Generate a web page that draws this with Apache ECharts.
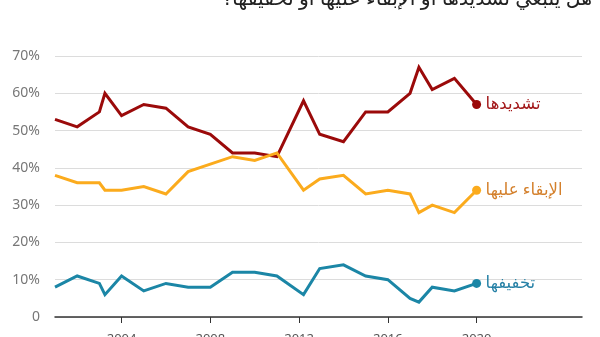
<!DOCTYPE html>
<html>
<head>
<meta charset="utf-8">
<script src="https://cdn.jsdelivr.net/npm/echarts@6/dist/echarts.min.js"></script>
<style>
  html, body { margin: 0; padding: 0; background: #fff; }
  #chart { width: 600px; height: 337px; }
</style>
</head>
<body>
<div id="chart"></div>
<script>
// Survey dates (fractional years) and shares of respondents, in percent
const surveyDates = [2001, 2002, 2003, 2003.25, 2004, 2005, 2006, 2007, 2008, 2009, 2010, 2011, 2012.2, 2012.93, 2014, 2015, 2016, 2017, 2017.4, 2018, 2019, 2020];
const tighten = [53, 51, 55, 60, 54, 57, 56, 51, 49, 44, 44, 43, 58, 49, 47, 55, 55, 60, 67, 61, 64, 57];
const keepAsIs = [38, 36, 36, 34, 34, 35, 33, 39, 41, 43, 42, 44, 34, 37, 38, 33, 34, 33, 28, 30, 28, 34];
const loosen = [8, 11, 9, 6, 11, 7, 9, 8, 8, 12, 12, 11, 6, 13, 14, 11, 10, 5, 4, 8, 7, 9];

const seriesNames = ['تشديدها', 'الإبقاء عليها', 'تخفيفها'];
const titleText = 'هل ينبغي تشديدها أو الإبقاء عليها أو تخفيفها؟';
const yearTicks = [2004, 2008, 2012, 2016, 2020];

const FONT = "'Noto Sans', 'DejaVu Sans', sans-serif";

function pairs(values) {
  return surveyDates.map((d, i) => [d, values[i]]);
}

function lineSeries(name, values, color, labelColor) {
  return {
    name: name,
    type: 'line',
    data: pairs(values),
    showSymbol: false,
    symbol: 'circle',
    symbolSize: 8,
    lineStyle: { color: color, width: 3, join: 'miter' },
    itemStyle: { color: color },
    emphasis: { disabled: true },
    animation: false,
    markPoint: {
      symbol: 'circle',
      symbolSize: 9,
      itemStyle: { color: color },
      label: { show: false },
      data: [{ coord: [surveyDates[surveyDates.length - 1], values[values.length - 1]] }]
    },
    endLabel: {
      show: true,
      formatter: name,
      color: labelColor,
      fontFamily: FONT,
      fontSize: 16.5,
      distance: 9
    }
  };
}

const chart = echarts.init(document.getElementById('chart'), null, { renderer: 'canvas' });
chart.setOption({
  animation: false,
  grid: { left: 55, right: 18, top: 56, bottom: 20, containLabel: false, outerBoundsMode: 'none' },
  xAxis: {
    type: 'value',
    min: 2001,
    max: 2024.75,
    splitLine: { show: false },
    axisLine: { show: true, onZero: false, lineStyle: { color: '#333', width: 1.5 } },
    axisTick: { show: true, length: 6, lineStyle: { color: '#333', width: 1 }, customValues: yearTicks },
    axisLabel: {
      customValues: yearTicks,
      color: '#555',
      fontFamily: FONT,
      fontSize: 13,
      margin: 16,
      formatter: v => String(v)
    }
  },
  yAxis: {
    type: 'value',
    min: 0,
    max: 70,
    interval: 10,
    axisLine: { show: false },
    axisTick: { show: false },
    splitLine: { lineStyle: { color: '#dcdcdc', width: 1 } },
    axisLabel: {
      color: '#777',
      fontFamily: FONT,
      fontSize: 14,
      margin: 15,
      formatter: v => (v === 0 ? '0' : v + '%')
    }
  },
  graphic: [{
    type: 'text',
    right: 8,
    top: -11,
    style: {
      text: titleText,
      fill: '#222',
      font: "20.5px " + FONT,
      align: 'right'
    }
  }],
  series: [
    lineSeries(seriesNames[0], tighten, '#9b0a0a', '#a3191b'),
    lineSeries(seriesNames[1], keepAsIs, '#fbab1d', '#d4802c'),
    lineSeries(seriesNames[2], loosen, '#1b86a6', '#2580a6')
  ]
});
</script>
</body>
</html>
